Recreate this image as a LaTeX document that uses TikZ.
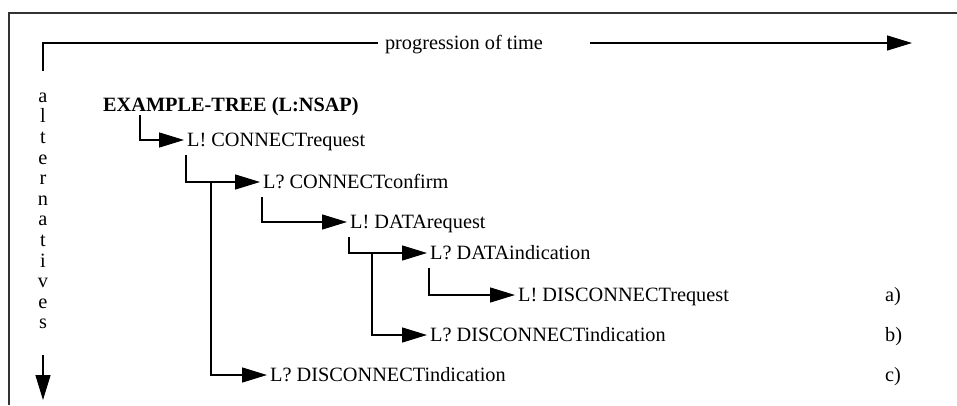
\documentclass[tikz,border=0pt]{standalone}
\usepackage{fontspec}
\setmainfont{Liberation Serif}
\usetikzlibrary{arrows.meta}

\begin{document}
\fontsize{20.3}{24}\selectfont
\begin{tikzpicture}[x=1pt,y=-1pt,
    axis/.style={line width=1.4pt},
    branch/.style={line width=1.4pt, -{Triangle[length=25pt,width=15pt]}},
    item/.style={anchor=west, inner xsep=3pt, inner ysep=0pt, text height=17pt, text depth=4pt}]
  \useasboundingbox (0,0) rectangle (957,405);

  % Draw frame
  \draw[line width=2pt, black!80] (9,405) -- (9,13) -- (957,13);

  % Time axis
  \coordinate (corner) at (43,71);
  \coordinate (tend) at (912,43);
  \node[item, anchor=center, inner xsep=7pt] (time) at (464,43) {progression of time};
  \draw[axis] (corner) |- (time.west);
  \draw[branch] ([xshift=40pt]time.east) -- (tend);

  % Alternatives axis
  \coordinate (aend) at (43,400);
  \node[anchor=north, inner sep=0pt, align=center, font=\fontsize{20.3}{20.6}\selectfont] (alt) at (43,92.5)
    {a\\l\\t\\e\\r\\n\\a\\t\\i\\v\\e\\s};
  \draw[branch] ([yshift=-26pt]alt.south) -- (aend);

  % Tree nodes
  \node[item, font=\bfseries] (root) at (100,105) {EXAMPLE-TREE (L:NSAP)};
  \node[item] (conreq) at (184,140) {L! CONNECTrequest};
  \node[item] (concnf) at (260,182) {L? CONNECTconfirm};
  \node[item] (datreq) at (347,222) {L! DATArequest};
  \node[item] (datind) at (427,253) {L? DATAindication};
  \node[item] (discreq) at (515,295) {L! DISCONNECTrequest};
  \node[item] (discind) at (427,335) {L? DISCONNECTindication};
  \node[item] (discindc) at (267,375) {L? DISCONNECTindication};

  % Alternative labels
  \node[item] (alta) at (882,295) {a)};
  \node[item] (altb) at (882,335) {b)};
  \node[item] (altc) at (882,375) {c)};

  % Branches
  \coordinate (forkc) at (211,182);
  \coordinate (forkb) at (372,253);
  \draw[branch] ([xshift=40pt,yshift=-10pt]root.west) |- (conreq.west);
  \draw[branch] ([xshift=2pt,yshift=-15pt]conreq.west) |- (concnf.west);
  \draw[branch] ([xshift=2pt,yshift=-15pt]concnf.west) |- (datreq.west);
  \draw[branch] ([xshift=2pt,yshift=-15pt]datreq.west) |- (datind.west);
  \draw[branch] ([xshift=2pt,yshift=-15pt]datind.west) |- (discreq.west);
  \draw[branch] (forkb) |- (discind.west);
  \draw[branch] (forkc) |- (discindc.west);
\end{tikzpicture}
\end{document}
